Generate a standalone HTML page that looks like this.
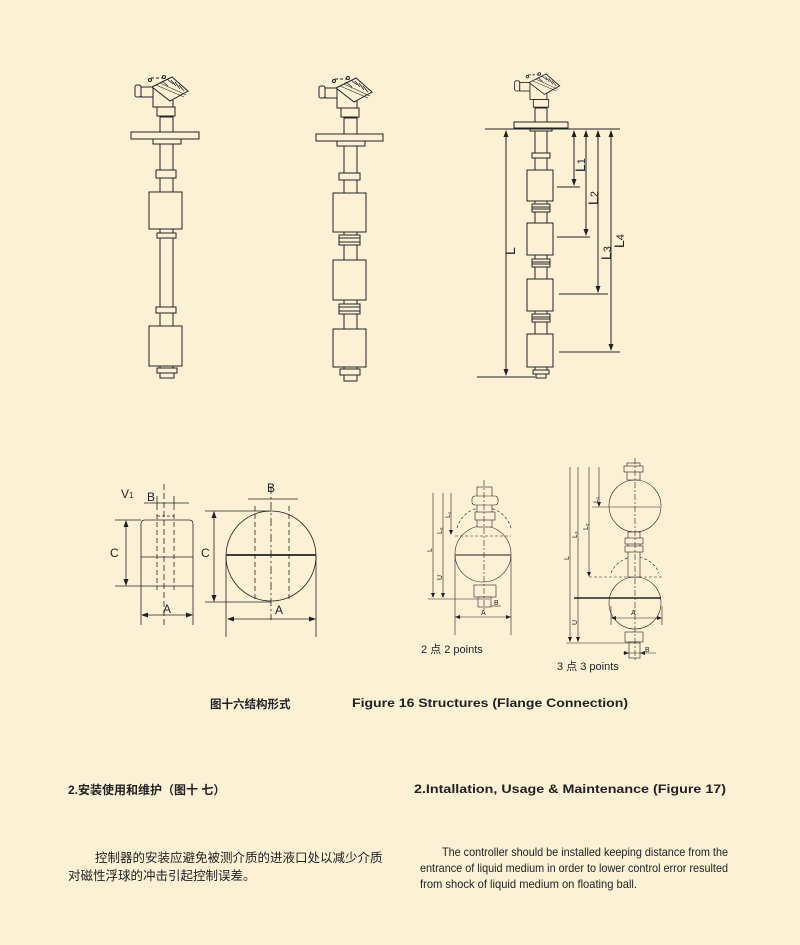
<!DOCTYPE html>
<html><head><meta charset="utf-8"><style>
html,body{margin:0;padding:0;background:#FCF1D5;}
svg{display:block;}
text{font-family:"Liberation Sans","Noto Sans CJK SC",sans-serif;fill:#222;}
</style></head><body>
<svg width="800" height="945" viewBox="0 0 800 945" xmlns="http://www.w3.org/2000/svg">
<rect width="800" height="945" fill="#FCF1D5"/>
<defs>
<g id="head" fill="#FCF1D5" stroke="#222" stroke-width="1">
  <path d="M-15,-39 H-2" stroke-dasharray="3,2" fill="none"/>
  <circle cx="-16" cy="-37" r="1.5"/><circle cx="-2" cy="-40" r="1.5"/>
  <rect x="-31" y="-32" width="6" height="12" rx="2"/>
  <rect x="-25" y="-30" width="12" height="10"/>
  <rect x="-13" y="-30" width="20" height="20"/>
  <path d="M-14,-30 L6,-40 L22,-26 L4,-16 Z"/>
  <path d="M-10,-32 L18,-20 M-6,-34 L20,-22" stroke-width="0.6"/>
  <path d="M-4,-36 L2,-31 M1,-38 L7,-33 M5,-37 L10,-31 M9,-35 L14,-28 M13,-32 L18,-26" stroke-width="0.8"/>
  <rect x="-9" y="-10" width="18" height="9"/>
</g>
</defs>
<g stroke="#222" stroke-width="1" fill="none">
<!-- Rod 1 -->
<use href="#head" x="166" y="117"/>
<rect x="160" y="117" width="13" height="15" fill="#FCF1D5"/>
<rect x="160" y="144" width="13" height="224"/>
<rect x="131" y="132" width="68" height="7" fill="#FCF1D5"/>
<rect x="153" y="139" width="28" height="5" fill="#FCF1D5"/>
<rect x="156" y="170" width="20" height="8" fill="#FCF1D5"/>
<rect x="149" y="192" width="33" height="37" fill="#FCF1D5"/>
<rect x="157" y="233" width="19" height="5" fill="#FCF1D5"/>
<rect x="156" y="307" width="20" height="6" fill="#FCF1D5"/>
<rect x="149" y="326" width="33" height="40" fill="#FCF1D5"/>
<rect x="157" y="368" width="20" height="5" fill="#FCF1D5"/>
<rect x="160" y="373" width="14" height="5" fill="#FCF1D5"/>
<!-- Rod 2 -->
<use href="#head" x="350" y="118"/>
<rect x="344" y="118" width="13" height="16" fill="#FCF1D5"/>
<rect x="344" y="146" width="13" height="223"/>
<rect x="316" y="134" width="67" height="7" fill="#FCF1D5"/>
<rect x="337" y="141" width="28" height="5" fill="#FCF1D5"/>
<rect x="339" y="173" width="21" height="7" fill="#FCF1D5"/>
<rect x="333" y="193" width="33" height="39" fill="#FCF1D5"/>
<rect x="339" y="235" width="21" height="10" fill="#FCF1D5"/><line x1="339" y1="238" x2="360" y2="238"/><line x1="339" y1="242" x2="360" y2="242"/>
<rect x="333" y="260" width="33" height="40" fill="#FCF1D5"/>
<rect x="339" y="304" width="21" height="10" fill="#FCF1D5"/><line x1="339" y1="307" x2="360" y2="307"/><line x1="339" y1="311" x2="360" y2="311"/>
<rect x="333" y="329" width="33" height="38" fill="#FCF1D5"/>
<rect x="340" y="369" width="20" height="6" fill="#FCF1D5"/>
<rect x="344" y="375" width="13" height="6" fill="#FCF1D5"/>
<!-- Rod 3 -->
<use href="#head" x="541" y="108" transform="translate(541 108) scale(0.85) translate(-541 -108)"/>
<rect x="535" y="108" width="12" height="14" fill="#FCF1D5"/>
<rect x="535" y="130" width="12" height="240"/>
<rect x="514" y="122" width="54" height="6" fill="#FCF1D5"/>
<rect x="530" y="128" width="22" height="3" fill="#FCF1D5"/>
<line x1="485" y1="129" x2="620" y2="129"/>
<rect x="532" y="153" width="18" height="5" fill="#FCF1D5"/>
<rect x="527" y="170" width="26" height="31" fill="#FCF1D5"/>
<rect x="532" y="204" width="18" height="8" fill="#FCF1D5"/><line x1="532" y1="207" x2="550" y2="207"/><line x1="532" y1="209" x2="550" y2="209"/>
<rect x="527" y="223" width="26" height="32" fill="#FCF1D5"/>
<rect x="532" y="259" width="18" height="8" fill="#FCF1D5"/><line x1="532" y1="262" x2="550" y2="262"/><line x1="532" y1="264" x2="550" y2="264"/>
<rect x="527" y="279" width="26" height="32" fill="#FCF1D5"/>
<rect x="532" y="314" width="18" height="8" fill="#FCF1D5"/><line x1="532" y1="317" x2="550" y2="317"/><line x1="532" y1="319" x2="550" y2="319"/>
<rect x="527" y="334" width="26" height="33" fill="#FCF1D5"/>
<rect x="533" y="370" width="16" height="4" fill="#FCF1D5"/>
<rect x="536" y="374" width="10" height="4" fill="#FCF1D5"/>
<line x1="477" y1="377" x2="535" y2="377"/>
<line x1="506" y1="131" x2="506" y2="375"/>
<line x1="574" y1="131" x2="574" y2="185"/><line x1="557" y1="187" x2="580" y2="187"/>
<line x1="586" y1="131" x2="586" y2="235"/><line x1="557" y1="237" x2="590" y2="237"/>
<line x1="598" y1="131" x2="598" y2="292"/><line x1="559" y1="294" x2="608" y2="294"/>
<line x1="611" y1="131" x2="611" y2="350"/><line x1="559" y1="352" x2="620" y2="352"/>
</g>
<g fill="#222">
<path d="M506,130 l-2.5,7 h5z M506,376 l-2.5,-7 h5z"/>
<path d="M574,130 l-2.5,7 h5z M574,186 l-2.5,-7 h5z"/>
<path d="M586,130 l-2.5,7 h5z M586,236 l-2.5,-7 h5z"/>
<path d="M598,130 l-2.5,7 h5z M598,293 l-2.5,-7 h5z"/>
<path d="M611,130 l-2.5,7 h5z M611,351 l-2.5,-7 h5z"/>
</g>
<g font-size="14">
<text transform="translate(515 255) rotate(-90)">L</text>
<text transform="translate(585 172) rotate(-90)">L<tspan font-size="11">1</tspan></text>
<text transform="translate(598 205) rotate(-90)">L<tspan font-size="11">2</tspan></text>
<text transform="translate(611 260) rotate(-90)">L<tspan font-size="11">3</tspan></text>
<text transform="translate(624 248) rotate(-90)">L<tspan font-size="11">4</tspan></text>
</g>

<!-- Cylinder float -->
<g stroke="#222" stroke-width="0.8" fill="none">
<path d="M141,586 V524 Q141,520 145,520 H189 Q193,520 193,524 V586 Z"/>
<line x1="141" y1="557" x2="193" y2="557"/>
<line x1="164" y1="484" x2="164" y2="627" stroke-dasharray="6,3"/>
<path d="M157,514 V590 M174,514 V590" stroke-dasharray="5,3"/>
<path d="M157,516 h17" stroke-dasharray="3,2"/>
<line x1="144" y1="503" x2="189" y2="503"/>
<line x1="157" y1="496" x2="157" y2="510"/><line x1="174" y1="496" x2="174" y2="510"/>
<line x1="115" y1="520" x2="141" y2="520"/><line x1="115" y1="586" x2="141" y2="586"/>
<line x1="126" y1="521" x2="126" y2="585"/>
<line x1="141" y1="586" x2="141" y2="625"/><line x1="193" y1="586" x2="193" y2="625"/>
<line x1="142" y1="615" x2="192" y2="615"/>
<!-- sphere -->
<circle cx="271" cy="556" r="45"/>
<path d="M226,555 H316" stroke-width="1.8"/>
<path d="M255,506 V601 M289,506 V601" stroke-dasharray="5,3"/>
<line x1="271" y1="486" x2="271" y2="620" stroke-dasharray="8,3,2,3"/>
<line x1="248" y1="499" x2="298" y2="499"/>
<line x1="205" y1="511" x2="271" y2="511"/><line x1="205" y1="602" x2="271" y2="602"/>
<line x1="214" y1="512" x2="214" y2="601"/>
<line x1="226" y1="556" x2="226" y2="637"/><line x1="316" y1="556" x2="316" y2="637"/>
<line x1="228" y1="619" x2="314" y2="619"/>
</g>
<g fill="#222">
<path d="M126,520 l-2.5,7 h5z M126,586 l-2.5,-7 h5z M141,615 l7,-2.5 v5z M193,615 l-7,-2.5 v5z"/>
<path d="M214,511 l-2.5,7 h5z M214,602 l-2.5,-7 h5z M227,619 l7,-2.5 v5z M316,619 l-7,-2.5 v5z"/>
</g>
<g font-size="12">
<text x="121" y="498">V<tspan font-size="8">1</tspan></text>
<text x="147" y="501">B</text>
<text x="110" y="557">C</text>
<text x="163" y="613">A</text>
<text x="267" y="492">B</text>
<text x="201" y="557">C</text>
<text x="275" y="614">A</text>
</g>

<!-- 2 points -->
<g stroke="#222" stroke-width="0.6" fill="none">
<circle cx="483" cy="554" r="28"/>
<path d="M457,528 A28,28 0 0 1 511,528" stroke-dasharray="3,2"/>
<line x1="455" y1="536" x2="511" y2="536" stroke-dasharray="3,2"/>
<line x1="455" y1="555" x2="511" y2="555" stroke-width="1"/>
<rect x="477" y="487" width="15" height="40" fill="#FCF1D5"/>
<rect x="472" y="496" width="26" height="9" rx="3" fill="#FCF1D5"/>
<rect x="475" y="512" width="20" height="8" fill="#FCF1D5"/>
<rect x="474" y="585" width="22" height="12" fill="#FCF1D5"/>
<rect x="478" y="597" width="13" height="10" fill="#FCF1D5"/>
<line x1="484" y1="480" x2="484" y2="612" stroke-dasharray="6,2,2,2"/>
<line x1="433" y1="493" x2="433" y2="597"/><line x1="443" y1="493" x2="443" y2="597"/><line x1="451" y1="493" x2="451" y2="534"/>
<line x1="428" y1="599" x2="490" y2="599"/>
<line x1="491" y1="606" x2="501" y2="606"/>
<line x1="455" y1="556" x2="455" y2="635"/><line x1="511" y1="556" x2="511" y2="635"/>
<line x1="455" y1="617" x2="511" y2="617"/>
</g>
<g fill="#222">
<path d="M433,598 l-2,-5 h4z M443,598 l-2,-5 h4z M451,535 l-2,-5 h4z M455,617 l5,-2 v4z M511,617 l-5,-2 v4z"/>
</g>
<g font-size="7">
<text transform="translate(432 552) rotate(-90)">L</text>
<text transform="translate(442 580) rotate(-90)">U</text>
<text transform="translate(442 534) rotate(-90)">L₂</text>
<text transform="translate(450 518) rotate(-90)">L₁</text>
<text x="494" y="605">B</text>
<text x="481" y="615">A</text>
</g>
<text x="421" y="653" font-size="11">2 点 2 points</text>

<!-- 3 points -->
<g stroke="#222" stroke-width="0.6" fill="none">
<circle cx="635" cy="506" r="26"/>
<line x1="592" y1="507" x2="660" y2="507"/>
<path d="M611,573 A26,26 0 0 1 659,573" stroke-dasharray="3,2"/>
<line x1="589" y1="577" x2="662" y2="577" stroke-dasharray="3,2"/>
<circle cx="635" cy="603" r="26"/>
<line x1="574" y1="598" x2="661" y2="598" stroke-width="1.5"/>
<rect x="627" y="463" width="13" height="17" fill="#FCF1D5"/>
<rect x="624" y="466" width="19" height="6" fill="#FCF1D5"/>
<rect x="628" y="532" width="12" height="45" fill="#FCF1D5"/>
<rect x="625" y="538" width="18" height="6" fill="#FCF1D5"/>
<rect x="625" y="546" width="18" height="6" fill="#FCF1D5"/>
<rect x="625" y="632" width="18" height="10" fill="#FCF1D5"/>
<rect x="629" y="642" width="11" height="16" fill="#FCF1D5"/>
<line x1="635" y1="458" x2="635" y2="660" stroke-dasharray="6,2,2,2"/>
<line x1="570" y1="467" x2="570" y2="642"/><line x1="578" y1="467" x2="578" y2="642"/>
<line x1="589" y1="467" x2="589" y2="576"/><line x1="599" y1="467" x2="599" y2="506"/>
<line x1="566" y1="643" x2="640" y2="643"/>
<line x1="623" y1="653" x2="656" y2="653"/>
<line x1="611" y1="606" x2="611" y2="625"/><line x1="662" y1="606" x2="662" y2="625"/>
<line x1="611" y1="618" x2="662" y2="618"/>
</g>
<g fill="#222">
<path d="M570,642 l-2,-5 h4z M578,642 l-2,-5 h4z M589,577 l-2,-5 h4z M599,507 l-2,-5 h4z M611,618 l5,-2 v4z M662,618 l-5,-2 v4z M629,653 l-5,-2 v4z M640,653 l5,-2 v4z"/>
</g>
<g font-size="7">
<text transform="translate(569 560) rotate(-90)">L</text>
<text transform="translate(577 538) rotate(-90)">L₃</text>
<text transform="translate(588 530) rotate(-90)">L₂</text>
<text transform="translate(598 503) rotate(-90)">L₁</text>
<text transform="translate(577 625) rotate(-90)">U</text>
<text x="645" y="652">B</text>
<text x="631" y="615">A</text>
</g>
<text x="557" y="670" font-size="11">3 点 3 points</text>

<!-- captions -->
<text x="210" y="708" font-size="11.5" font-weight="bold">图十六结构形式</text>
<text x="352" y="707" font-size="11.5" font-weight="bold" textLength="276" lengthAdjust="spacingAndGlyphs">Figure 16 Structures (Flange Connection)</text>
<text x="68" y="794" font-size="12" font-weight="bold">2.安装使用和维护（图十 七）</text>
<text x="414" y="793" font-size="12" font-weight="bold" textLength="312" lengthAdjust="spacingAndGlyphs">2.Intallation, Usage &amp; Maintenance (Figure 17)</text>
<text x="95" y="862" font-size="12.5">控制器的安装应避免被测介质的进液口处以减少介质</text>
<text x="68" y="880" font-size="12.5">对磁性浮球的冲击引起控制误差。</text>
<g font-size="12">
<text x="442" y="856" textLength="286" lengthAdjust="spacingAndGlyphs">The controller should be installed keeping distance from the</text>
<text x="420" y="872" textLength="308" lengthAdjust="spacingAndGlyphs">entrance of liquid medium in order to lower control error resulted</text>
<text x="420" y="888" textLength="217" lengthAdjust="spacingAndGlyphs">from shock of liquid medium on floating ball.</text>
</g>
</svg>
</body></html>
